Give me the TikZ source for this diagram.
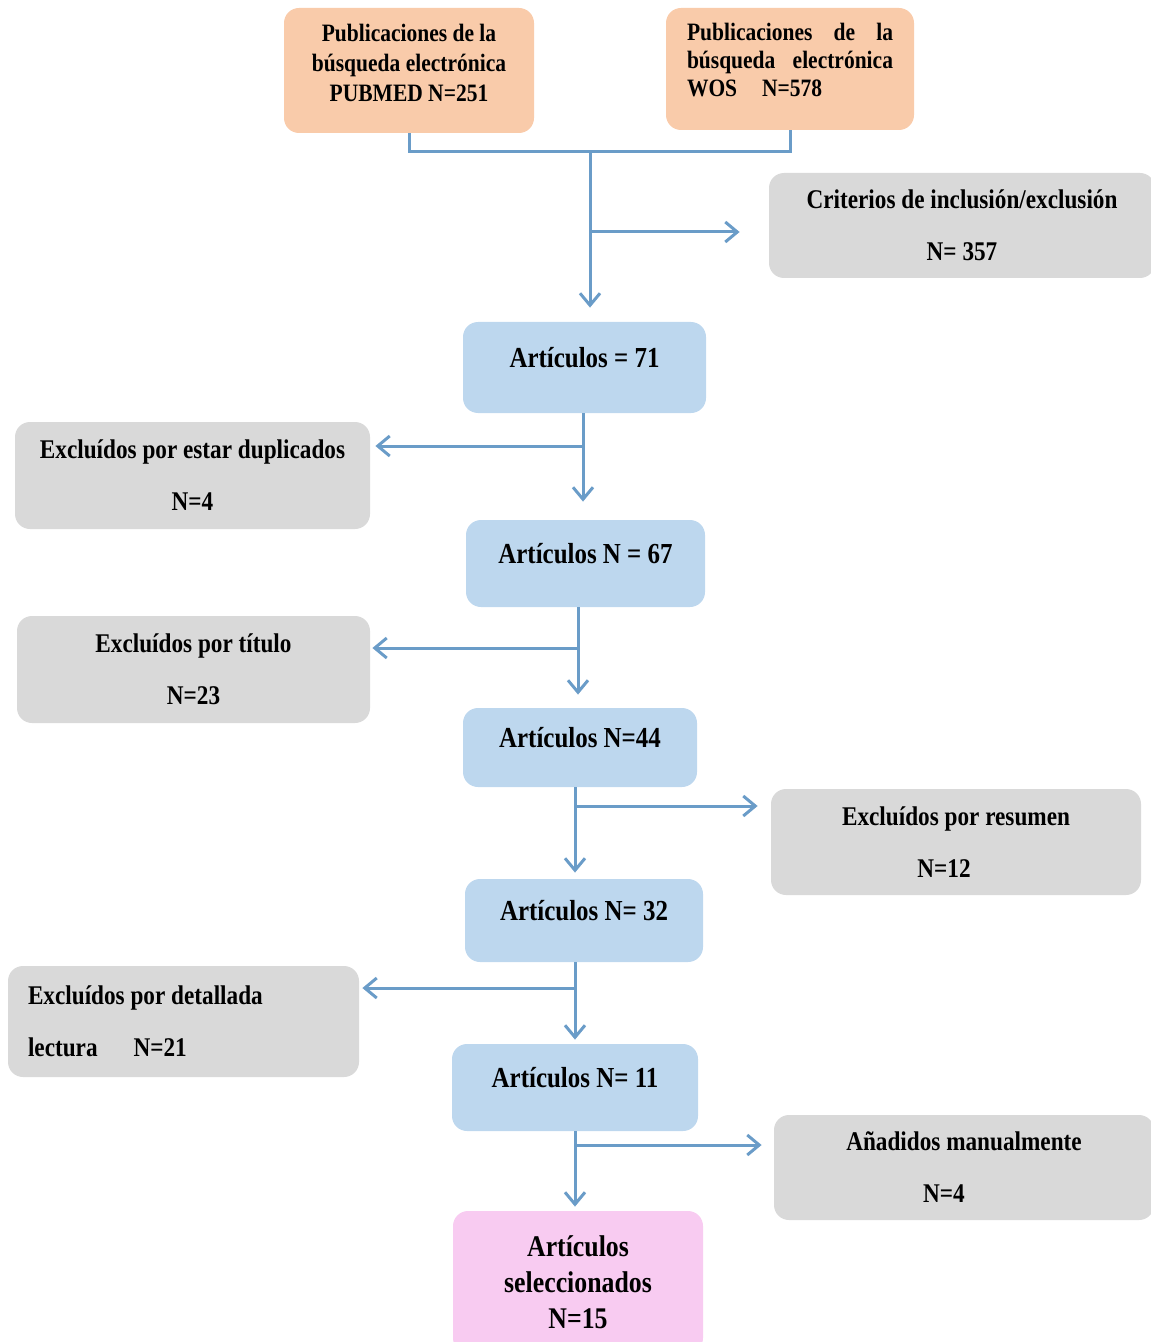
\documentclass[tikz,border=0pt]{standalone}
\usepackage{fontspec}
\setmainfont{Liberation Serif}[FakeStretch=0.86]
\usetikzlibrary{arrows.meta}

\definecolor{srcfill}{HTML}{F9CBAA}
\definecolor{exclfill}{HTML}{D9D9D9}
\definecolor{artfill}{HTML}{BDD7EE}
\definecolor{selfill}{HTML}{F8CBF1}
\definecolor{linkcol}{HTML}{6A9CC8}

\tikzset{
	box/.style={rounded corners=7.5pt, inner sep=0pt},
	src/.style={box, fill=srcfill, font=\fontsize{12.5}{15}\selectfont\bfseries, align=center},
	excl/.style={box, fill=exclfill, font=\fontsize{13.5}{26}\selectfont\bfseries, align=center},
	art/.style={box, fill=artfill, font=\fontsize{14.5}{17}\selectfont\bfseries, text height=8pt, text depth=8pt},
	final/.style={box, fill=selfill, font=\fontsize{15}{18}\selectfont\bfseries, align=center},
	link/.style={draw=linkcol, line width=1.5pt},
	arrow/.style={link, -{Straight Barb[length=6pt, width=10pt]}}
}

\begin{document}
\begin{tikzpicture}[x=0.5pt, y=-0.5pt]

		\useasboundingbox (0,0) rectangle (1150,1342);

		\node[src, minimum width=125pt, minimum height=62.5pt, text depth=7.5pt] (pub) at (409,70.5) {Publicaciones de la\\búsqueda electrónica\\PUBMED N=251};
		\node[src, font=\fontsize{12.5}{14}\selectfont\bfseries, minimum width=124pt, minimum height=61pt, text width=103pt, align=flush left, text depth=37pt] (wos) at (790,69) {Publicaciones\hfill de\hfill la\\búsqueda\hfill electrónica\\WOS\quad N=578};

		\node[excl, minimum width=193pt, minimum height=52.5pt] (crit) at (962,225.5) {Criterios de inclusión/exclusión\\N= 357};
		\node[art, minimum width=121.5pt, minimum height=45.5pt] (a71) at (584.5,367.5) {Artículos = 71};
		\node[excl, minimum width=177.5pt, minimum height=53.5pt] (dup) at (192.5,475.5) {Excluídos por estar duplicados\\N=4};
		\node[art, minimum width=119.5pt, minimum height=43.5pt] (a67) at (585.5,563.5) {Artículos N = 67};
		\node[excl, minimum width=176.5pt, minimum height=53.5pt] (tit) at (193.5,669.5) {Excluídos por título\\N=23};
		\node[art, minimum width=117pt, minimum height=39.5pt] (a44) at (580,747.5) {Artículos N=44};
		\node[excl, minimum width=185pt, minimum height=53pt] (res) at (956,842) {Excluídos por resumen\\\hspace*{-12pt}N=12};
		\node[art, minimum width=119pt, minimum height=41.5pt] (a32) at (584,920.5) {Artículos N= 32};
		\node[excl, minimum width=175.5pt, minimum height=55.5pt, text width=155.5pt, align=flush left] (det) at (183.5,1021.5) {Excluídos por detallada\\lectura\hspace{18pt}N=21};
		\node[art, minimum width=123pt, minimum height=43.5pt] (a11) at (575,1087.5) {Artículos N= 11};
		\node[excl, minimum width=190pt, minimum height=52.5pt] (add) at (964,1167.5) {Añadidos manualmente\\\hspace*{-20pt}N=4};
		\node[final, minimum width=125pt, minimum height=71pt] (sel) at (578,1282) {Artículos\\seleccionados\\N=15};

		\coordinate (join) at (590,152);
		\coordinate (b0) at (590,232);
		\coordinate (b1) at (583,446);
		\coordinate (b2) at (578,648);
		\coordinate (b3) at (575,806);
		\coordinate (b4) at (575,988);
		\coordinate (b5) at (575,1145);

		\draw[link] (pub.south) |- (join);
		\draw[link] (wos.south) |- (join);
		\draw[arrow, shorten >=7pt] (join) -- (join |- a71.north);
		\draw[arrow, shorten >=14.5pt] (b0) -- (b0 -| crit.west);

		\draw[arrow, shorten >=9pt] (b1 |- a71.south) -- (b1 |- a67.north);
		\draw[arrow, shorten >=2.5pt] (b1) -- (b1 -| dup.east);

		\draw[arrow, shorten >=6.5pt] (b2 |- a67.south) -- (b2 |- a44.north);
		\draw[arrow, shorten >=1pt] (b2) -- (b2 -| tit.east);

		\draw[arrow, shorten >=3pt] (b3 |- a44.south) -- (b3 |- a32.north);
		\draw[arrow, shorten >=6.5pt] (b3) -- (b3 -| res.west);

		\draw[arrow, shorten >=2pt] (b4 |- a32.south) -- (b4 |- a11.north);
		\draw[arrow, shorten >=1.5pt] (b4) -- (b4 -| det.east);

		\draw[arrow, shorten >=2pt] (b5 |- a11.south) -- (b5 |- sel.north);
		\draw[arrow, shorten >=6pt] (b5) -- (b5 -| add.west);

	\end{tikzpicture}
\end{document}
